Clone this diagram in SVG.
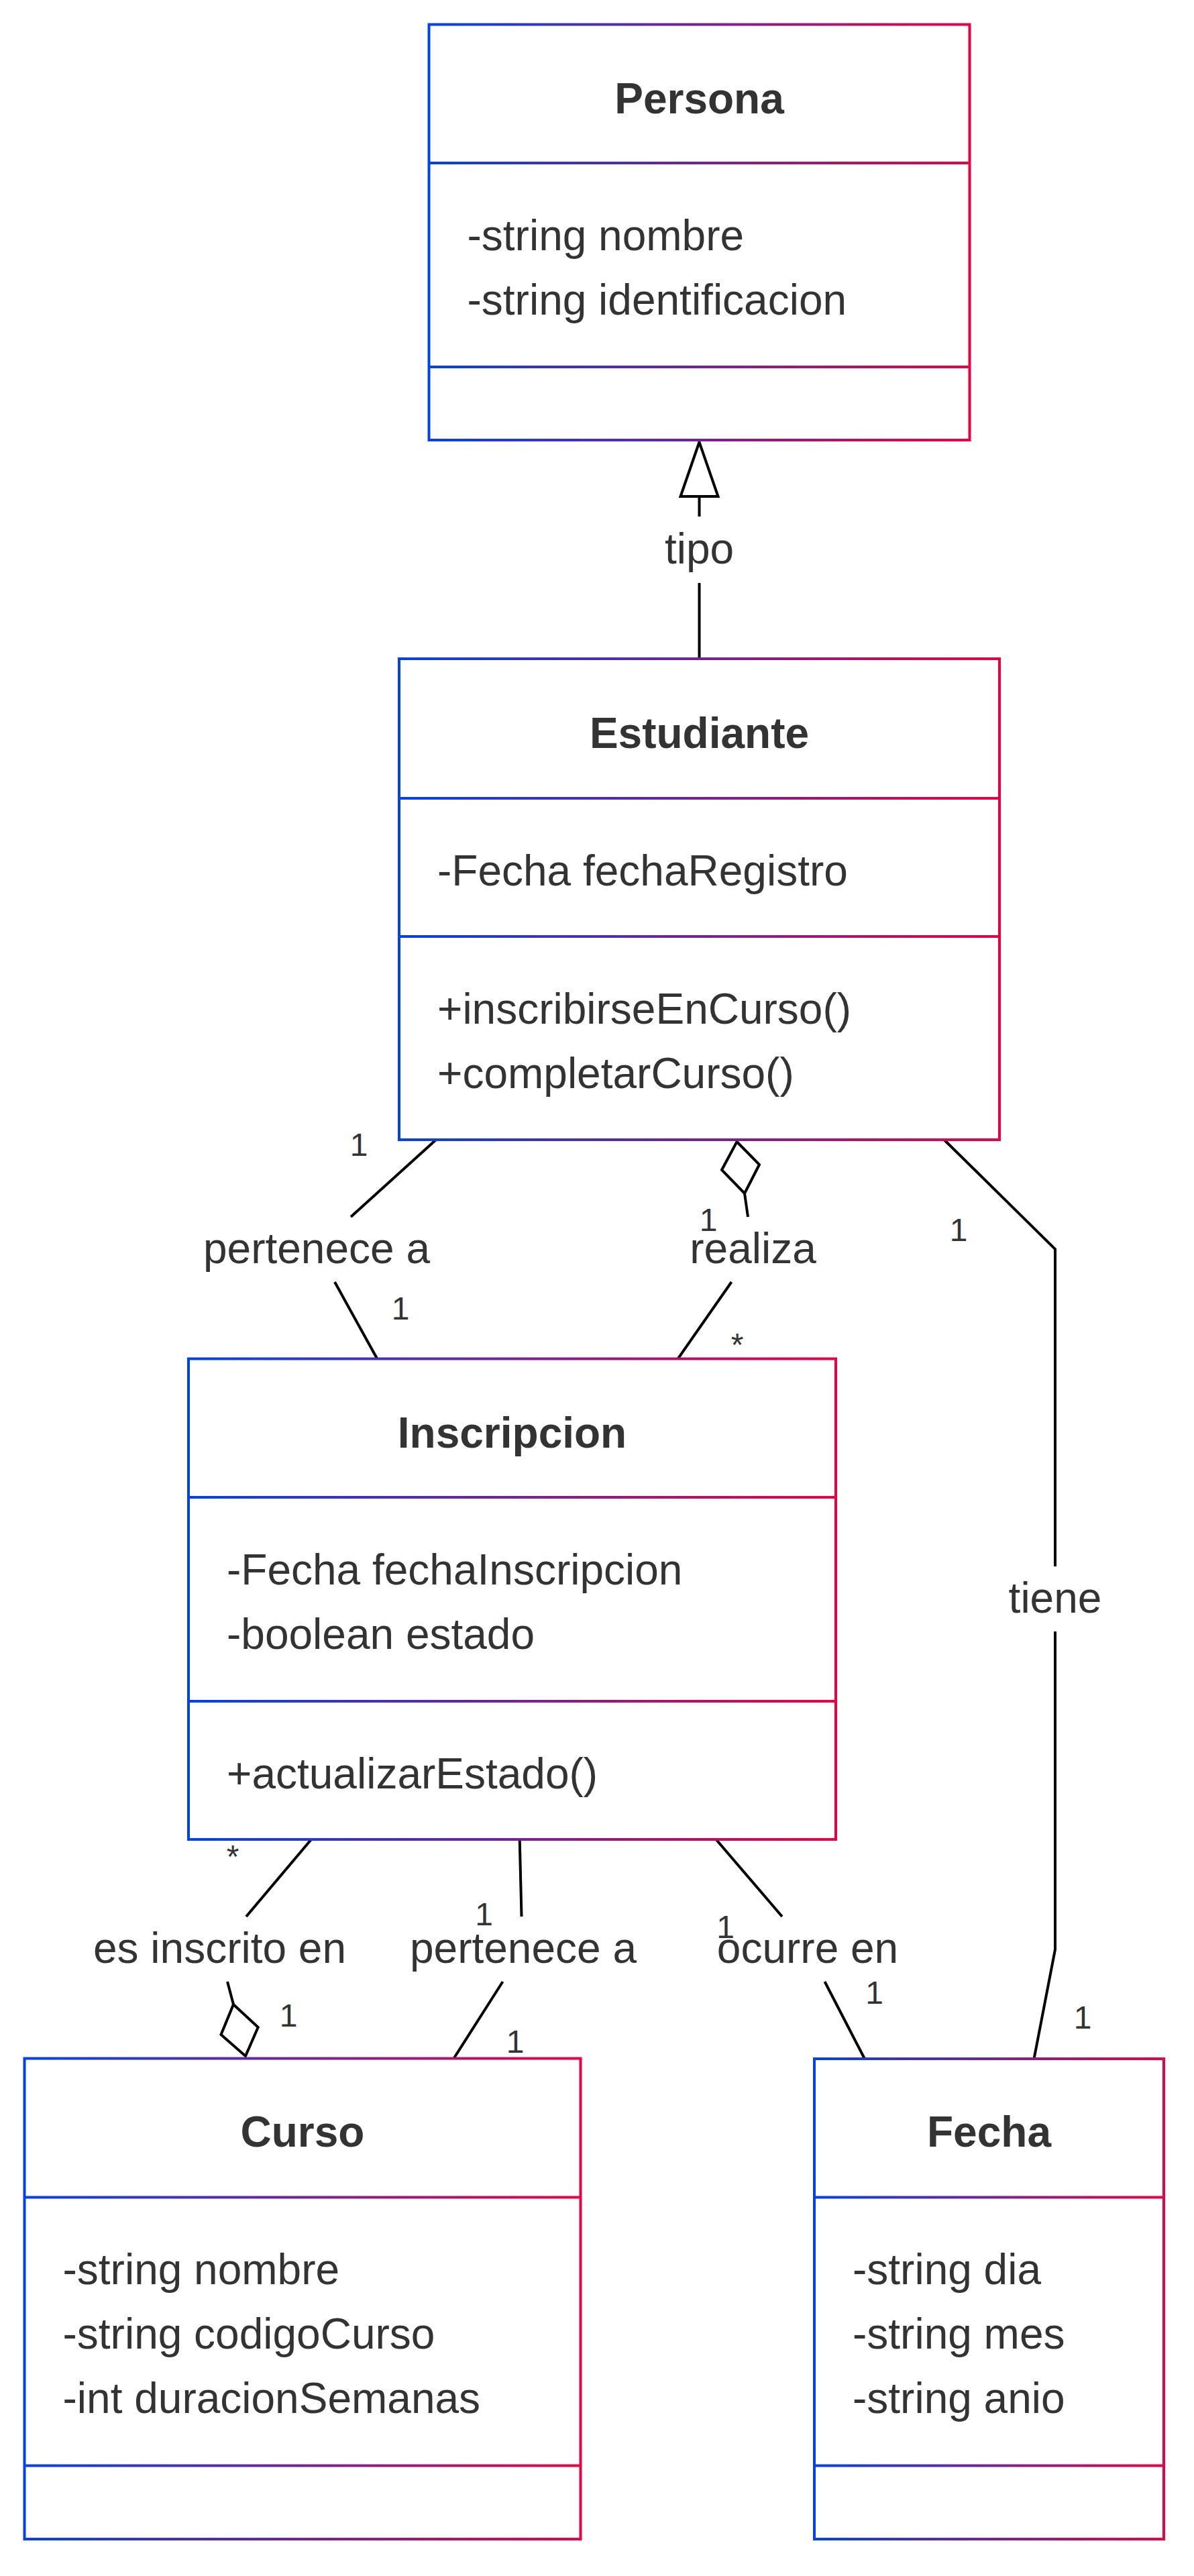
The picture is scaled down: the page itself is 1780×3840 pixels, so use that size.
<svg xmlns="http://www.w3.org/2000/svg" width="1780" height="3840" viewBox="0 0 1780 3840">
<style>
.frame{fill:#ffffff;stroke:url(#grad);stroke-width:4}
.title{font-family:"Liberation Sans",Arial,sans-serif;font-size:64px;font-weight:bold;fill:#333333;text-anchor:middle}
.mem{font-family:"Liberation Sans",Arial,sans-serif;font-size:64px;fill:#333333}
.lbl{font-family:"Liberation Sans",Arial,sans-serif;font-size:64px;fill:#333333;text-anchor:middle}
.card{font-family:"Liberation Sans",Arial,sans-serif;font-size:48px;fill:#333333;text-anchor:middle}
.edge{fill:none;stroke:#000000;stroke-width:4}
.head{fill:#ffffff;stroke:#000000;stroke-width:4;stroke-linejoin:miter}
</style>
<defs>
<linearGradient id="grad" x1="0" y1="0" x2="1" y2="0">
<stop offset="0" stop-color="#0042eb"/>
<stop offset="1" stop-color="#eb0042"/>
</linearGradient>
</defs>
<rect width="1780" height="3840" fill="#ffffff"/>

<g id="connectors">
<path class="edge" d="M1042.5,982 V869 M1042.5,770 V740"/>
<polygon class="head" points="1042.5,659 1014.5,740 1070.5,740"/>
<path class="edge" d="M650,1699 L523,1814 M499,1911 L562,2025"/>
<path class="edge" d="M1110,1779 L1115,1814 M1090.5,1911 L1011,2025"/>
<polygon class="head" points="1098.5,1702 1132,1736 1110,1779 1076,1744"/>
<path class="edge" d="M1407.5,1699 L1573,1862 V2335 M1573,2432 V2906 L1541.5,3069"/>
<path class="edge" d="M464,2742 L367,2857 M339,2954 L348,2988"/>
<polygon class="head" points="348,2988 384.7,3022 366,3065 329.5,3033"/>
<path class="edge" d="M774.7,2742 L777.5,2857 M749.5,2954 L676.5,3068.5"/>
<path class="edge" d="M1067.5,2742 L1166,2857 M1229.5,2954 L1289,3069"/>
<text class="lbl" x="1042.5" y="840">tipo</text>
<text class="lbl" x="472" y="1883">pertenece a</text>
<text class="lbl" x="1122.5" y="1883">realiza</text>
<text class="lbl" x="1573" y="2404">tiene</text>
<text class="lbl" x="327.5" y="2926">es inscrito en</text>
<text class="lbl" x="780" y="2926">pertenece a</text>
<text class="lbl" x="1204" y="2926">ocurre en</text>
<text class="card" x="535" y="1723">1</text>
<text class="card" x="597" y="1967">1</text>
<text class="card" x="1056" y="1835">1</text>
<text class="card" x="1099" y="2021">*</text>
<text class="card" x="1429" y="1850">1</text>
<text class="card" x="1614" y="3024">1</text>
<text class="card" x="347" y="2784">*</text>
<text class="card" x="430" y="3021">1</text>
<text class="card" x="721.5" y="2870">1</text>
<text class="card" x="768" y="3060">1</text>
<text class="card" x="1081.5" y="2889">1</text>
<text class="card" x="1303.5" y="2987">1</text>
</g>

<g id="Persona">
<path class="frame" d="M639.5,36.5 H1445.5 V656 H639.5 Z M639.5,243 H1445.5 M639.5,547 H1445.5"/>
<text class="title" x="1042.5" y="169">Persona</text>
<text class="mem" x="696.5" y="373">-string nombre</text>
<text class="mem" x="696.5" y="469">-string identificacion</text>
</g>

<g id="Estudiante">
<path class="frame" d="M595,982 H1490 V1699 H595 Z M595,1190 H1490 M595,1396 H1490"/>
<text class="title" x="1042.5" y="1115">Estudiante</text>
<text class="mem" x="652" y="1320">-Fecha fechaRegistro</text>
<text class="mem" x="652" y="1526">+inscribirseEnCurso()</text>
<text class="mem" x="652" y="1622">+completarCurso()</text>
</g>

<g id="Inscripcion">
<path class="frame" d="M281,2025.5 H1246 V2742 H281 Z M281,2232 H1246 M281,2536 H1246"/>
<text class="title" x="763.5" y="2158">Inscripcion</text>
<text class="mem" x="338" y="2362">-Fecha fechaInscripcion</text>
<text class="mem" x="338" y="2458">-boolean estado</text>
<text class="mem" x="338" y="2666">+actualizarEstado()</text>
</g>

<g id="Curso">
<path class="frame" d="M36.5,3068.5 H865.5 V3785 H36.5 Z M36.5,3275.5 H865.5 M36.5,3675.5 H865.5"/>
<text class="title" x="451" y="3200">Curso</text>
<text class="mem" x="93.5" y="3405">-string nombre</text>
<text class="mem" x="93.5" y="3501">-string codigoCurso</text>
<text class="mem" x="93.5" y="3597">-int duracionSemanas</text>
</g>

<g id="Fecha">
<path class="frame" d="M1214,3069 H1735 V3785 H1214 Z M1214,3275.5 H1735 M1214,3675.5 H1735"/>
<text class="title" x="1474.5" y="3200">Fecha</text>
<text class="mem" x="1271" y="3405">-string dia</text>
<text class="mem" x="1271" y="3501">-string mes</text>
<text class="mem" x="1271" y="3597">-string anio</text>
</g>
</svg>
